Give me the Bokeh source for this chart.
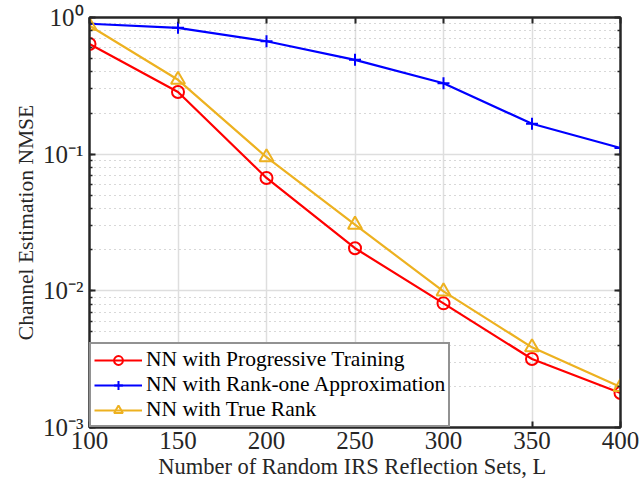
from bokeh.plotting import figure
from bokeh.models import (FixedTicker, LogAxis, LinearAxis, Legend, LegendItem,
                          CustomJSTickFormatter, LogTicker)
from bokeh.embed import file_html
from bokeh.resources import INLINE

# ---- data ----
L_values = [100, 150, 200, 250, 300, 350, 400]
nmse_progressive = [0.64, 0.285, 0.067, 0.0205, 0.0081, 0.00317, 0.00179]
nmse_rank_one = [0.90, 0.84, 0.67, 0.49, 0.33, 0.167, 0.111]
nmse_true_rank = [0.87, 0.35, 0.095, 0.0305, 0.0099, 0.00386, 0.00198]
x_ticks = [100, 150, 200, 250, 300, 350, 400]
x_grid_ticks = [150, 200, 250, 300, 350]
y_grid_major = [1e-2, 1e-1]
y_grid_minor = [m * 10.0 ** d for d in (-3, -2, -1) for m in range(2, 10)]
labels = ["NN with Progressive Training", "NN with Rank-one Approximation", "NN with True Rank"]

FONT = "Liberation Serif"
RED, BLUE, YEL = "#ff0000", "#0000ff", "#EDB120"
DARK = "#262626"

p = figure(width=642, height=491, x_range=(100, 400), y_range=(1e-3, 1e0),
           y_axis_type="log", output_backend="svg", toolbar_location=None,
           min_border_left=89, min_border_right=21, min_border_top=17, min_border_bottom=64)
p.outline_line_color = DARK
p.outline_line_width = 2

sup_fmt = CustomJSTickFormatter(code="""
const m = {'0':'\u2070','1':'\u00b9','2':'\u00b2','3':'\u00b3','4':'\u2074','5':'\u2075','6':'\u2076','7':'\u2077','8':'\u2078','9':'\u2079','-':'\u207b'};
const e = Math.round(Math.log10(tick));
return '10' + String(e).split('').map(c => m[c]).join('');
""")

xa = p.xaxis[0]
xa.ticker = FixedTicker(ticks=x_ticks)
ya = p.yaxis[0]
ya.ticker = LogTicker(num_minor_ticks=10)
ya.formatter = sup_fmt

for ax in (xa, ya):
    ax.major_tick_in = 6
    ax.major_tick_out = 0
    ax.minor_tick_in = 3
    ax.minor_tick_out = 0
    ax.axis_line_color = DARK
    ax.axis_line_width = 2
    ax.major_tick_line_color = DARK
    ax.major_tick_line_width = 2
    ax.minor_tick_line_color = DARK
    ax.minor_tick_line_width = 1.5
    ax.major_label_text_font = FONT
    ax.major_label_text_font_size = "25px"
    ax.major_label_text_color = DARK
    ax.axis_label_text_font = FONT
    ax.axis_label_text_font_style = "normal"
    ax.axis_label_text_color = DARK
xa.minor_tick_line_color = None
xa.major_label_standoff = 4
ya.major_label_standoff = 6
xa.axis_label = "Number of Random IRS Reflection Sets,  L"
ya.axis_label = "Channel Estimation NMSE"
xa.axis_label_text_font_size = "22.5px"
ya.axis_label_text_font_size = "21.5px"
xa.axis_label_standoff = 2
ya.axis_label_standoff = 2

# top and right box axes (tick marks only; labels in white, tiny)
top = LinearAxis(ticker=FixedTicker(ticks=x_ticks),
                 major_label_standoff=2, major_label_text_font_size="9px",
                 major_label_text_color="white",
                 major_tick_in=6, major_tick_out=0, minor_tick_line_color=None,
                 axis_line_color=DARK, axis_line_width=2,
                 major_tick_line_color=DARK, major_tick_line_width=2)
right = LogAxis(major_label_standoff=2, major_label_text_font_size="9px",
                major_label_text_color="white",
                major_tick_in=6, major_tick_out=0, minor_tick_in=3, minor_tick_out=0,
                axis_line_color=DARK, axis_line_width=2,
                major_tick_line_color=DARK, major_tick_line_width=2,
                minor_tick_line_color=DARK, minor_tick_line_width=1.5)
p.add_layout(top, "above")
p.add_layout(right, "right")

# grids (edge lines left to the dark frame outline)
p.xgrid.ticker = FixedTicker(ticks=x_grid_ticks)
p.ygrid.ticker = FixedTicker(ticks=y_grid_major, minor_ticks=y_grid_minor)
p.xgrid.grid_line_color = "#dedede"
p.xgrid.grid_line_width = 1.5
p.ygrid.grid_line_color = "#dedede"
p.ygrid.grid_line_width = 1.5
p.ygrid.minor_grid_line_color = "#b0b0b0"
p.ygrid.minor_grid_line_dash = "1 4"
p.ygrid.minor_grid_line_width = 1

# series
r1 = p.line(L_values, nmse_progressive, line_color=RED, line_width=2.2)
m1 = p.scatter(L_values, nmse_progressive, marker="circle", size=12, fill_color=None,
               line_color=RED, line_width=2)
r2 = p.line(L_values, nmse_rank_one, line_color=BLUE, line_width=2.2)
m2 = p.scatter(L_values, nmse_rank_one, marker="cross", size=12,
               line_color=BLUE, line_width=2)
r3 = p.line(L_values, nmse_true_rank, line_color=YEL, line_width=2.2)
m3 = p.scatter(L_values, nmse_true_rank, marker="triangle", size=14, fill_color=None,
               line_color=YEL, line_width=2)

legend = Legend(items=[LegendItem(label=labels[0], renderers=[r1, m1]),
                       LegendItem(label=labels[1], renderers=[r2, m2]),
                       LegendItem(label=labels[2], renderers=[r3, m3])],
                location="bottom_left", margin=0, padding=3, spacing=0,
                label_text_font=FONT, label_text_font_size="21.5px",
                label_text_color="black", glyph_width=48, glyph_height=22,
                label_height=22, label_standoff=4,
                border_line_color=DARK, border_line_width=2,
                background_fill_color="white", background_fill_alpha=1)
p.add_layout(legend, "center")

open("out.html", "w").write(file_html(p, INLINE))
